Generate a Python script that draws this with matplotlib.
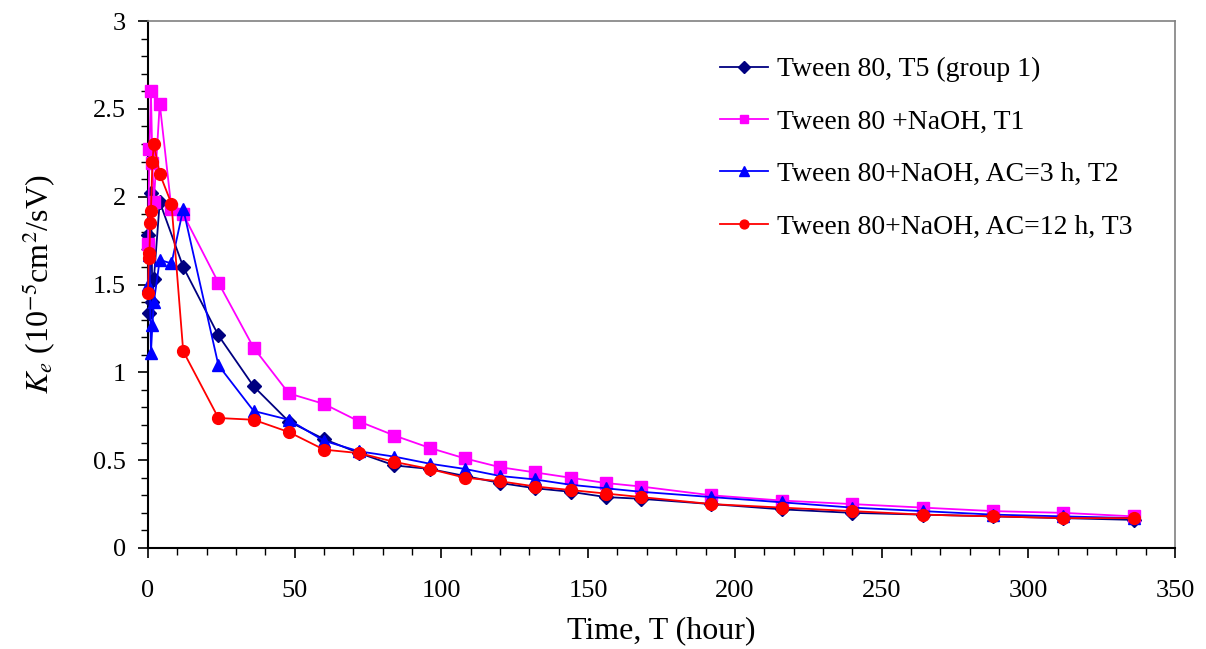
import numpy as np
import matplotlib
matplotlib.use("Agg")
import matplotlib.pyplot as plt
import matplotlib.ticker as mticker

plt.rcParams["font.family"] = ["Liberation Serif", "DejaVu Serif"]
plt.rcParams["mathtext.fontset"] = "stix"

# ── data ───────────────────────────────────────────
late_t = [24, 36, 48, 60, 72, 84, 96, 108, 120, 132, 144, 156, 168,
          192, 216, 240, 264, 288, 312, 336]

# Tween 80, T5 (group 1)
t5_t = [0, 0.5, 1, 1.5, 2, 4, 12] + late_t
t5_k = [1.78, 1.34, 2.02, 1.40, 1.53, 1.97, 1.60,
        1.21, 0.92, 0.72, 0.62, 0.54, 0.47, 0.45, 0.41, 0.37, 0.34, 0.32, 0.29, 0.28,
        0.25, 0.22, 0.20, 0.19, 0.18, 0.17, 0.16]

# Tween 80 +NaOH, T1
t1_t = [0, 0.5, 1, 1.5, 2, 4, 8, 12] + late_t
t1_k = [1.73, 2.27, 2.60, 2.19, 1.97, 2.53, 1.93, 1.90,
        1.51, 1.14, 0.88, 0.82, 0.72, 0.64, 0.57, 0.51, 0.46, 0.43, 0.40, 0.37, 0.35,
        0.30, 0.27, 0.25, 0.23, 0.21, 0.20, 0.18]

# Tween 80+NaOH, AC=3 h, T2
t2_t = [0, 0.5, 1, 1.5, 2, 4, 8, 12] + late_t
t2_k = [1.50, 1.67, 1.11, 1.27, 1.40, 1.64, 1.62, 1.93,
        1.04, 0.78, 0.73, 0.61, 0.55, 0.52, 0.48, 0.45, 0.41, 0.39, 0.36, 0.34, 0.32,
        0.29, 0.26, 0.23, 0.21, 0.19, 0.18, 0.17]

# Tween 80+NaOH, AC=12 h, T3
t3_t = [0, 0.25, 0.5, 0.75, 1, 1.5, 2, 4, 8, 12] + late_t
t3_k = [1.45, 1.65, 1.68, 1.85, 1.92, 2.20, 2.30, 2.13, 1.96, 1.12,
        0.74, 0.73, 0.66, 0.56, 0.54, 0.49, 0.45, 0.40, 0.38, 0.35, 0.33, 0.31, 0.29,
        0.25, 0.23, 0.21, 0.19, 0.18, 0.17, 0.17]

labels = ["Tween 80, T5 (group 1)", "Tween 80 +NaOH, T1",
          "Tween 80+NaOH, AC=3 h, T2", "Tween 80+NaOH, AC=12 h, T3"]
colors = ["#000080", "#FF00FF", "#0000FF", "#FF0000"]
markers = ["D", "s", "^", "o"]
msizes = [7.5, 8.5, 9, 8.5]

# ── plot ───────────────────────────────────────────
fig = plt.figure(figsize=(12.06, 6.49), dpi=100)
ax = fig.add_axes([148 / 1206, 101 / 649, 1027 / 1206, 527 / 649])

series = [(t5_t, t5_k), (t1_t, t1_k), (t2_t, t2_k), (t3_t, t3_k)]
for (t, k), lab, c, m, ms in zip(series, labels, colors, markers, msizes):
    ax.plot(t, k, color=c, marker=m, markersize=ms, linewidth=1.3,
            label=lab, clip_on=False, zorder=3)

ax.set_xlim(0, 350)
ax.set_ylim(0, 3)
ax.xaxis.set_major_locator(mticker.MultipleLocator(50))
ax.xaxis.set_minor_locator(mticker.MultipleLocator(10))
ax.yaxis.set_major_locator(mticker.MultipleLocator(0.5))
ax.yaxis.set_minor_locator(mticker.MultipleLocator(0.1))
ax.yaxis.set_major_formatter(mticker.FuncFormatter(lambda v, _: f"{v:g}"))
ax.tick_params(which="major", direction="out", length=7, width=1.2, labelsize=19)
ax.tick_params(axis="x", which="major", pad=16)
ax.tick_params(axis="y", which="major", pad=9)
ax.tick_params(which="minor", direction="out", length=5, width=1.0)

for s in ["left", "bottom"]:
    ax.spines[s].set_linewidth(1.5)
for s in ["top", "right"]:
    ax.spines[s].set_color("#808080")
    ax.spines[s].set_linewidth(1.2)

ax.set_xlabel("Time, T (hour)", fontsize=23, labelpad=10)
ax.set_ylabel(r"$K_e$ (10$^{-5}$cm$^2$/sV)", fontsize=23, labelpad=26)

leg = ax.legend(loc="upper left", bbox_to_anchor=(0.546, 0.953), borderaxespad=0,
                frameon=False, fontsize=20, labelspacing=0.97, handlelength=1.75,
                handletextpad=0.3, markerscale=0.75)

fig.savefig("out.png", dpi=100)
